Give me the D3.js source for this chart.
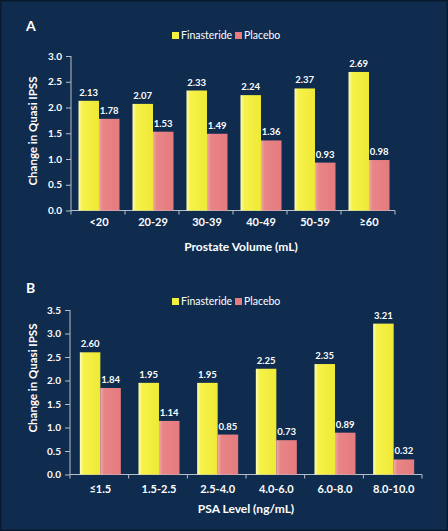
<!DOCTYPE html>
<html><head><meta charset="utf-8">
<script src="https://cdn.jsdelivr.net/npm/d3@7"></script>
<style>html,body{margin:0;padding:0;background:#000;}svg{display:block;}</style>
</head><body>
<script>
const seriesNames = ["Finasteride", "Placebo"];
const catsA = ["<20", "20-29", "30-39", "40-49", "50-59", "\u226560"];
const finA = [2.13, 2.07, 2.33, 2.24, 2.37, 2.69];
const plaA = [1.78, 1.53, 1.49, 1.36, 0.93, 0.98];
const ticksA = [0, 0.5, 1.0, 1.5, 2.0, 2.5, 3.0];
const catsB = ["\u22641.5", "1.5-2.5", "2.5-4.0", "4.0-6.0", "6.0-8.0", "8.0-10.0"];
const finB = [2.60, 1.95, 1.95, 2.25, 2.35, 3.21];
const plaB = [1.84, 1.14, 0.85, 0.73, 0.89, 0.32];
const ticksB = [0, 0.5, 1.0, 1.5, 2.0, 2.5, 3.0, 3.5];

const W = 448, H = 531;
const font = "Lato, 'Open Sans', sans-serif";
const svg = d3.select("body").append("svg").attr("width", W).attr("height", H);
svg.append("rect").attr("x", 0).attr("y", 0).attr("width", W).attr("height", H).attr("fill", "#0a1a2c");
svg.append("rect").attr("x", 1.5).attr("y", 1.5).attr("width", W - 3).attr("height", H - 3).attr("fill", "#0f2c4f");

const defs = svg.append("defs");
const gy = defs.append("linearGradient").attr("id", "gy").attr("x1", "0").attr("x2", "1").attr("y1", "0").attr("y2", "0");
gy.append("stop").attr("offset", "0").attr("stop-color", "#fdfcc0");
gy.append("stop").attr("offset", "0.18").attr("stop-color", "#f6f24a");
gy.append("stop").attr("offset", "1").attr("stop-color", "#efe935");
const gp = defs.append("linearGradient").attr("id", "gp").attr("x1", "0").attr("x2", "1").attr("y1", "0").attr("y2", "0");
gp.append("stop").attr("offset", "0").attr("stop-color", "#f3aaa9");
gp.append("stop").attr("offset", "0.18").attr("stop-color", "#e98587");
gp.append("stop").attr("offset", "1").attr("stop-color", "#e57b7e");
const fills = ["url(#gy)", "url(#gp)"];
const legendFills = ["#f4f03c", "#e8797d"];

function panel(cfg) {
  const g = svg.append("g");
  const y = d3.scaleLinear().domain([0, cfg.ymax]).range([cfg.y0, cfg.y1]);
  const x0 = d3.scaleBand().domain(cfg.cats).range([cfg.x0, cfg.x1]).padding(0);
  const groupW = 41;
  const x1 = d3.scaleBand().domain(seriesNames).range([0, groupW]).padding(0);
  const off = (x0.bandwidth() - groupW) / 2 + 1;

  g.append("text").attr("x", 26).attr("y", cfg.letterY).attr("fill", "#fff")
    .attr("font-family", font).attr("font-weight", "bold").attr("font-size", 14).text(cfg.letter);

  const lg = g.append("g").attr("transform", `translate(172,${cfg.legendY})`);
  const legX = [0, 63];
  seriesNames.forEach((s, i) => {
    lg.append("rect").attr("x", legX[i]).attr("y", -7).attr("width", 7).attr("height", 7).attr("fill", legendFills[i]);
    lg.append("text").attr("x", legX[i] + 9).attr("y", 0).attr("fill", "#fff")
      .attr("font-family", font).attr("font-size", 10.5).text(s);
  });

  const ya = g.append("g").attr("transform", `translate(${cfg.x0},0)`)
    .call(d3.axisLeft(y).tickValues(cfg.ticks).tickFormat(d3.format(".1f")).tickSize(5).tickPadding(4));
  ya.selectAll("path,line").attr("stroke", "#b8bec8");
  ya.select(".domain").attr("d", `M0,${cfg.y1}V${cfg.y0}`);
  ya.selectAll("text").attr("fill", "#fff").attr("font-family", font).attr("font-weight", "bold").attr("font-size", 10);

  const xa = g.append("g").attr("transform", `translate(0,${cfg.y0})`);
  xa.append("line").attr("x1", cfg.x0).attr("x2", cfg.x1).attr("stroke", "#b8bec8");
  const edges = cfg.cats.map(c => x0(c)).concat([cfg.x1]);
  xa.selectAll("line.t").data(edges).enter().append("line").attr("class", "t")
    .attr("x1", d => d).attr("x2", d => d).attr("y1", 0).attr("y2", 4).attr("stroke", "#b8bec8");
  xa.selectAll("text").data(cfg.cats).enter().append("text")
    .attr("x", d => x0(d) + x0.bandwidth() / 2 + 1).attr("y", cfg.catY - cfg.y0)
    .attr("text-anchor", "middle").attr("fill", "#fff").attr("font-family", font)
    .attr("font-weight", "bold").attr("font-size", 11).text(d => d);

  const rows = cfg.cats.map((c, i) => ({c, v: [cfg.fin[i], cfg.pla[i]]}));
  rows.forEach(r => {
    r.v.forEach((v, si) => {
      const bx = x0(r.c) + off + x1(seriesNames[si]);
      g.append("rect").attr("x", bx).attr("y", y(v)).attr("width", x1.bandwidth())
        .attr("height", cfg.y0 - y(v)).attr("fill", fills[si]);
      g.append("text").attr("x", bx + x1.bandwidth() / 2).attr("y", y(v) - 5)
        .attr("text-anchor", "middle").attr("fill", "#fff").attr("font-family", font)
        .attr("font-weight", "bold").attr("font-size", 9.5).text(v.toFixed(2));
    });
  });

  g.append("text").attr("transform", `translate(37,${cfg.ylabelY}) rotate(-90)`)
    .attr("text-anchor", "middle").attr("fill", "#fff").attr("font-family", font)
    .attr("font-weight", "bold").attr("font-size", 11.5).text("Change in Quasi IPSS");
  g.append("text").attr("x", cfg.xtitleX).attr("y", cfg.xtitleY).attr("text-anchor", "middle")
    .attr("fill", "#fff").attr("font-family", font).attr("font-weight", "bold").attr("font-size", 12)
    .text(cfg.xtitle);
}

panel({letter: "A", letterY: 31, legendY: 39, cats: catsA, fin: finA, pla: plaA, ticks: ticksA,
  ymax: 3.0, y0: 210.5, y1: 56, x0: 71, x1: 395, catY: 226, xtitle: "Prostate Volume (mL)",
  xtitleX: 241, xtitleY: 251, ylabelY: 131});
panel({letter: "B", letterY: 293, legendY: 305, cats: catsB, fin: finB, pla: plaB, ticks: ticksB,
  ymax: 3.5, y0: 474.5, y1: 310, x0: 70, x1: 422, catY: 493, xtitle: "PSA Level (ng/mL)",
  xtitleX: 246, xtitleY: 513, ylabelY: 378});
</script>
</body></html>
